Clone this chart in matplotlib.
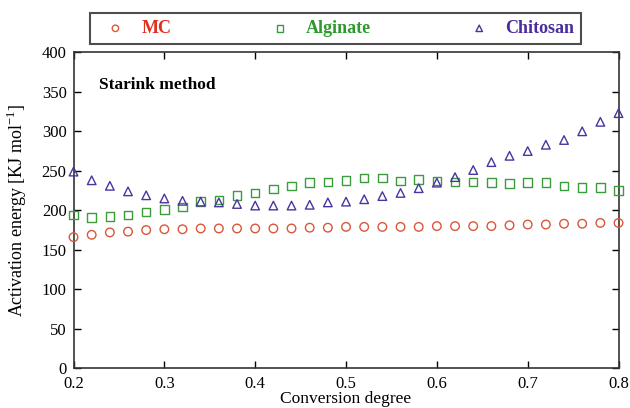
import numpy as np
import matplotlib.pyplot as plt

plt.rcParams['font.family'] = ['Liberation Serif', 'DejaVu Serif']

conversion = [0.20, 0.22, 0.24, 0.26, 0.28, 0.30, 0.32, 0.34, 0.36, 0.38, 0.40,
              0.42, 0.44, 0.46, 0.48, 0.50, 0.52, 0.54, 0.56, 0.58, 0.60, 0.62,
              0.64, 0.66, 0.68, 0.70, 0.72, 0.74, 0.76, 0.78, 0.80]

ea_mc = [166, 169, 172, 173, 175, 176, 176, 177, 177, 177, 177, 177, 177, 178,
         178, 179, 179, 179, 179, 179, 180, 180, 180, 180, 181, 182, 182, 183,
         183, 184, 184]
ea_alginate = [194, 191, 192, 194, 198, 201, 204, 211, 213, 219, 222, 227, 231,
               235, 236, 238, 241, 241, 237, 239, 237, 236, 236, 235, 234, 235,
               235, 231, 229, 229, 225]
ea_chitosan = [249, 238, 231, 224, 219, 215, 212, 211, 210, 208, 206, 206, 206,
               207, 210, 211, 214, 218, 222, 228, 235, 242, 251, 261, 269, 275,
               283, 289, 300, 312, 323]

series = ["MC", "Alginate", "Chitosan"]
marker_colors = ["#d9573a", "#3c9c3c", "#4a35a0"]
label_colors = ["#e0301e", "#2e9a2e", "#4a2c9c"]
markers = ["o", "s", "^"]

fig = plt.figure(figsize=(6.3, 4.08), dpi=100)
ax = fig.add_axes([0.1167, 0.0973, 0.8651, 0.7745])

handles = []
for vals, name, mc, mk in zip([ea_mc, ea_alginate, ea_chitosan], series,
                              marker_colors, markers):
    h = ax.scatter(conversion, vals, marker=mk, s=38, facecolors='none',
                   edgecolors=mc, linewidths=1.0, label=name, clip_on=False,
                   zorder=3)
    handles.append(h)

ax.set_xlim(0.2, 0.8)
ax.set_ylim(0, 400)
ax.set_xticks(np.arange(0.2, 0.81, 0.1))
ax.set_yticks(np.arange(0, 401, 50))
ax.set_xticklabels([f"{t:.1f}" for t in np.arange(0.2, 0.81, 0.1)])
ax.tick_params(direction='in', top=True, right=True, length=5, width=1,
               labelsize=12)
ax.tick_params(axis='y', pad=5)
ax.tick_params(axis='x', pad=5.5)
for sp in ax.spines.values():
    sp.set_linewidth(1.2)
    sp.set_color('#333333')

ax.set_xlabel("Conversion degree", fontsize=12.5)
ax.xaxis.set_label_coords(0.5, -0.072)
ax.set_ylabel("Activation energy [KJ mol$^{\\mathregular{-1}}$]", fontsize=13)
ax.yaxis.set_label_coords(-0.082, 0.5)

ax.text(0.047, 0.884, "Starink method", transform=ax.transAxes,
        fontsize=12.5, fontweight='bold')

leg = fig.legend(handles=handles, labels=series, ncol=3, loc='center',
                 bbox_to_anchor=(0.533, 0.930), bbox_transform=fig.transFigure,
                 frameon=True, fancybox=False, edgecolor='#222222',
                 fontsize=13, markerscale=0.75, handletextpad=0.44,
                 columnspacing=5.0, borderpad=0.4)
leg.get_frame().set_linewidth(1.5)
for txt, c in zip(leg.get_texts(), label_colors):
    txt.set_color(c)
    txt.set_fontweight('bold')

fig.savefig("out.png", dpi=100)
